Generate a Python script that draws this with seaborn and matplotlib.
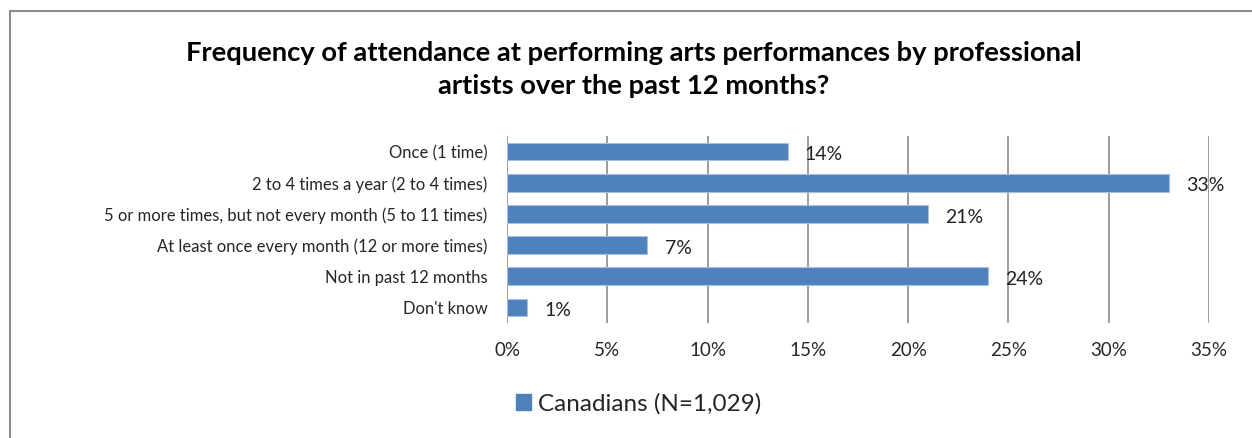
import pandas as pd
import matplotlib.pyplot as plt
import seaborn as sns
from matplotlib.patches import Rectangle

categories = [
    "Once (1 time)",
    "2 to 4 times a year (2 to 4 times)",
    "5 or more times, but not every month (5 to 11 times)",
    "At least once every month (12 or more times)",
    "Not in past 12 months",
    "Don't know",
]
values = [14, 33, 21, 7, 24, 1]
x_ticks = [0, 5, 10, 15, 20, 25, 30, 35]
series_name = "Canadians (N=1,029)"
title = ("Frequency of attendance at performing arts performances by professional\n"
         "artists over the past 12 months?")

sns.set_style("white")
plt.rcParams["font.family"] = ["Lato", "DejaVu Sans"]

df = pd.DataFrame({"category": categories, "value": values})
bar_color = "#4F81BD"

fig = plt.figure(figsize=(12.52, 4.38), dpi=100)
ax = fig.add_axes([0.405, 0.2626, 0.5607, 0.4269])

sns.barplot(data=df, x="value", y="category", color=bar_color, width=0.57,
            saturation=1, edgecolor="#A7C0DE", linewidth=0.8, ax=ax, zorder=3)

for i, v in enumerate(values):
    ax.text(v + 0.85, i + 0.1, f"{v}%", va="center", ha="left", fontsize=14,
            color="#222222", zorder=4)

ax.set_xlim(0, 35)
ax.set_ylim(5.5, -0.5)
ax.set_xticks(x_ticks)
ax.set_xticklabels([f"{t}%" for t in x_ticks], fontsize=13.5)
ax.tick_params(axis="y", labelsize=12, length=0, pad=14)
ax.tick_params(axis="x", length=0, pad=14)
ax.set_xlabel("")
ax.set_ylabel("")
for s in ax.spines.values():
    s.set_visible(False)
for t in x_ticks:
    ax.axvline(t, color="#8c8c8c", linewidth=1.2, zorder=1)

fig.suptitle(title, fontsize=19.7, fontweight="bold", x=0.506, y=0.906,
             linespacing=1.45, color="black")

handle = Rectangle((0, 0), 1, 1, color=bar_color)
fig.legend([handle], [series_name], loc="center", bbox_to_anchor=(0.510, 0.078),
           frameon=False, fontsize=17.5, handlelength=0.6, handleheight=0.6,
           handletextpad=0.3)

# chart frame
fig.add_artist(plt.Line2D([0.008, 0.008], [0.0, 0.975], color="#8c8c8c", lw=1.5))
fig.add_artist(plt.Line2D([0.008, 1.0], [0.975, 0.975], color="#8c8c8c", lw=1.5))

fig.savefig("out.png", dpi=100)
